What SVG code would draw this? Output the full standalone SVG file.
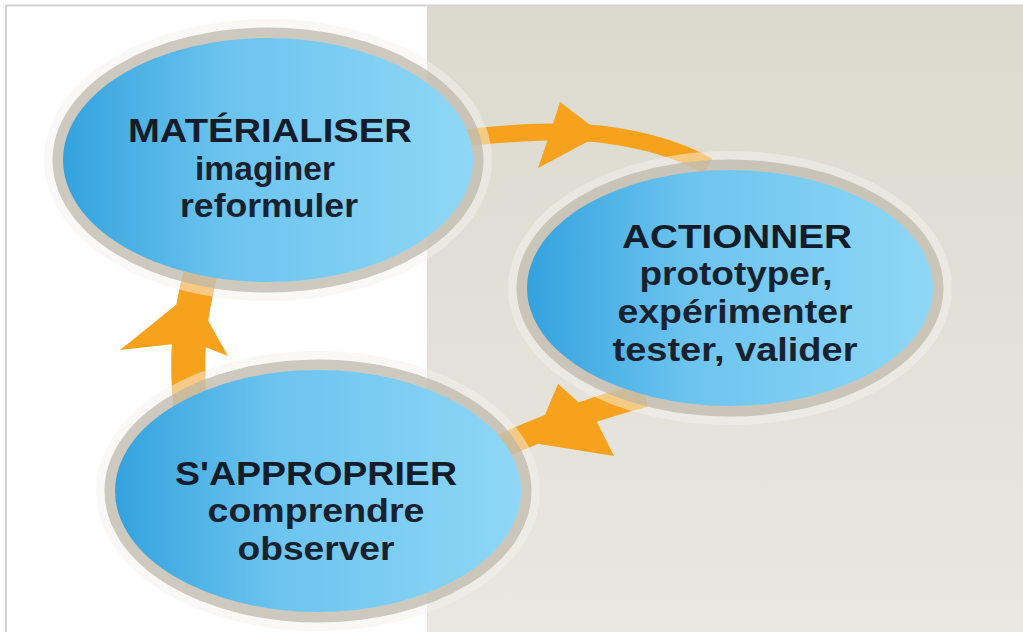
<svg xmlns="http://www.w3.org/2000/svg" width="1023" height="632" viewBox="0 0 1023 632">
  <defs>
    <linearGradient id="blue" x1="0" y1="0" x2="1" y2="0">
      <stop offset="0" stop-color="#34a2de"/>
      <stop offset="0.4" stop-color="#6cc4ef"/>
      <stop offset="1" stop-color="#8fd7f6"/>
    </linearGradient>
    <linearGradient id="beige" x1="0" y1="0" x2="0" y2="1">
      <stop offset="0" stop-color="#dcd9ce"/>
      <stop offset="1" stop-color="#e9e7e0"/>
    </linearGradient>
    <style>
      .halo { fill: none; stroke: #f4f2ed; stroke-width: 20; opacity: 0.5; }
      .ring { fill: none; stroke: #bdb7a7; stroke-width: 11; opacity: 0.72; }
      .disc { fill: url(#blue); }
      .head { font-family: "Liberation Sans", Arial, sans-serif; font-weight: bold; font-size: 33px; fill: #141c2a; text-anchor: middle; }
      .sub { font-family: "Liberation Sans", Arial, sans-serif; font-weight: bold; font-size: 33px; fill: #18222f; text-anchor: middle; }
      .band { fill: none; stroke: #f6a21d; stroke-linecap: butt; }
      .head-arrow { fill: #f6a21d; }
    </style>
  </defs>

  <!-- background -->
  <rect x="0" y="0" width="1023" height="632" fill="#ffffff"/>
  <rect x="427" y="6" width="596" height="626" fill="url(#beige)"/>
  <path d="M6 632 V5.5 H1023" fill="none" stroke="#d3d3d3" stroke-width="2"/>

  <!-- connectors -->
  <g id="connectors">
    <g id="arrow-materialiser-actionner">
      <path class="band" stroke-width="17" d="M 462 138 C 520 132, 560 130, 600 134 C 640 139, 680 150, 708 166"/>
      <polygon class="head-arrow" points="560,102 602,134 538,168 549,136"/>
    </g>
    <g id="arrow-actionner-sapproprier">
      <path class="band" stroke-width="24" d="M 645 395 C 605 405, 560 420, 500 447"/>
      <polygon class="head-arrow" points="558,384 533,443 614,456 594,416"/>
    </g>
    <g id="arrow-sapproprier-materialiser">
      <path class="band" stroke-width="34" d="M 190 405 C 186 360, 188 320, 201 272"/>
      <polygon class="head-arrow" points="120,350 192,292 228,356 192,342"/>
    </g>
  </g>

  <!-- nodes -->
  <g id="node-materialiser">
    <ellipse class="halo" cx="268" cy="160" rx="214" ry="131"/>
    <ellipse class="ring" cx="268" cy="160" rx="210" ry="127"/>
    <ellipse class="disc" cx="268" cy="160" rx="205" ry="122"/>
    <text class="head" x="270" y="142" textLength="284" lengthAdjust="spacingAndGlyphs">MATÉRIALISER</text>
    <text class="sub" x="265" y="180" textLength="140" lengthAdjust="spacingAndGlyphs">imaginer</text>
    <text class="sub" x="269" y="217" textLength="178" lengthAdjust="spacingAndGlyphs">reformuler</text>
  </g>

  <g id="node-actionner">
    <ellipse class="halo" cx="730" cy="288" rx="212" ry="127"/>
    <ellipse class="ring" cx="730" cy="288" rx="208" ry="123"/>
    <ellipse class="disc" cx="730" cy="288" rx="203" ry="118"/>
    <text class="head" x="737" y="248" textLength="230" lengthAdjust="spacingAndGlyphs">ACTIONNER</text>
    <text class="sub" x="736" y="285" textLength="193" lengthAdjust="spacingAndGlyphs">prototyper,</text>
    <text class="sub" x="735" y="323" textLength="235" lengthAdjust="spacingAndGlyphs">expérimenter</text>
    <text class="sub" x="735" y="361" textLength="245" lengthAdjust="spacingAndGlyphs">tester, valider</text>
  </g>

  <g id="node-sapproprier">
    <ellipse class="halo" cx="318" cy="491" rx="212" ry="130"/>
    <ellipse class="ring" cx="318" cy="491" rx="208" ry="126"/>
    <ellipse class="disc" cx="318" cy="491" rx="203" ry="121"/>
    <text class="head" x="316" y="485" textLength="282" lengthAdjust="spacingAndGlyphs">S'APPROPRIER</text>
    <text class="sub" x="316" y="522" textLength="217" lengthAdjust="spacingAndGlyphs">comprendre</text>
    <text class="sub" x="316" y="560" textLength="157" lengthAdjust="spacingAndGlyphs">observer</text>
  </g>
</svg>
